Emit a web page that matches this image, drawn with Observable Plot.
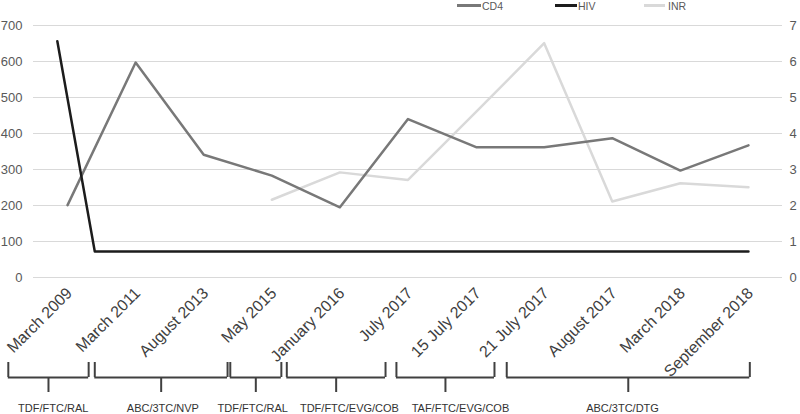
<!DOCTYPE html>
<html>
<head>
<meta charset="utf-8">
<script src="https://cdn.jsdelivr.net/npm/d3@7"></script>
<script src="https://cdn.jsdelivr.net/npm/@observablehq/plot@0.6"></script>
<style>
  html, body { margin: 0; padding: 0; background: #fff; }
  #wrap { position: relative; width: 800px; height: 414px; overflow: hidden; font-family: "Liberation Sans", Arial, sans-serif; }
  .lg { position: absolute; top: 0; font-size: 10.5px; color: #595959; line-height: 12px; }
  .sw { position: absolute; height: 2.5px; }
</style>
</head>
<body>
<div id="wrap"></div>
<script>
// ---- data ----
const dates = ["March 2009", "March 2011", "August 2013", "May 2015", "January 2016", "July 2017",
               "15 July 2017", "21 July 2017", "August 2017", "March 2018", "September 2018"];
const cd4 = [201, 597, 341, 283, 195, 440, 362, 362, 387, 297, 367];
const inr = [null, null, null, 2.16, 2.92, 2.71, 4.6, 6.51, 2.11, 2.62, 2.51];
const hivPos = [-0.15, 0.4, 10];          // positions along the date axis (category index)
const hivVal = [656, 72, 72];
const leftTicks = [0, 100, 200, 300, 400, 500, 600, 700];
const rightTicks = [0, 1, 2, 3, 4, 5, 6, 7];
const regimenNames = ["TDF/FTC/RAL", "ABC/3TC/NVP", "TDF/FTC/RAL", "TDF/FTC/EVG/COB", "TAF/FTC/EVG/COB", "ABC/3TC/DTG"];
const regimenStart = [-0.87, 0.4, 2.39, 3.22, 4.83, 6.45];
const regimenEnd   = [0.31, 2.35, 3.14, 4.67, 6.27, 10.02];
const regimenLabelAt = [-0.21, 1.4, 2.72, 4.14, 5.77, 8.15];

// ---- tables ----
const idx = d3.range(dates.length);
const cd4Data = idx.map(i => ({x: i, y: cd4[i]}));
const inrScale = 100; // INR plotted against right axis (0–7 ↔ 0–700)
const inrData = idx.filter(i => inr[i] != null).map(i => ({x: i, y: inr[i] * inrScale}));
const hivData = hivPos.map((p, i) => ({x: p, y: hivVal[i]}));
const regs = regimenNames.map((n, i) => ({name: n, s: regimenStart[i], e: regimenEnd[i], m: (regimenStart[i] + regimenEnd[i]) / 2, l: regimenLabelAt[i]}));

// layout constants (pixels below the zero line converted to y units)
const pxPerUnit = 252 / 700;
const below = px => -px / pxPerUnit;

const chart = Plot.plot({
  width: 800,
  height: 414,
  marginLeft: 33,
  marginRight: 18,
  marginTop: 25,
  marginBottom: 137,
  style: {fontFamily: "'Liberation Sans', Arial, sans-serif", background: "#fff", overflow: "visible"},
  x: {type: "linear", domain: [-0.5, 10.5], axis: null},
  y: {domain: [0, 700], axis: null},
  marks: [
    Plot.gridY(leftTicks, {stroke: "#d9d9d9", strokeOpacity: 1, strokeWidth: 1}),
    Plot.axisY(leftTicks, {anchor: "left", tickSize: 0, tickPadding: 11, fontSize: 13, fill: "#595959", label: null}),
    Plot.axisY(rightTicks.map(t => t * inrScale), {anchor: "right", tickSize: 0, tickPadding: 7, fontSize: 13, fill: "#595959", label: null, tickFormat: d => d / inrScale}),
    Plot.line(inrData, {x: "x", y: "y", stroke: "#d9d9d9", strokeWidth: 2.5}),
    Plot.line(cd4Data, {x: "x", y: "y", stroke: "#787878", strokeWidth: 2.5}),
    Plot.line(hivData, {x: "x", y: "y", stroke: "#1c1c1c", strokeWidth: 2.5}),
    Plot.text(idx, {x: d => d, y: 0, text: d => dates[d], rotate: -45, textAnchor: "end", dx: 2, dy: 13, fontSize: 16, fill: "#404040"}),
    Plot.ruleY(regs, {x1: "s", x2: "e", y: 0, dy: 100, stroke: "#404040", strokeWidth: 2}),
    Plot.ruleX(regs, {x: "s", y1: below(85), y2: below(100), stroke: "#404040", strokeWidth: 2}),
    Plot.ruleX(regs, {x: "e", y1: below(85), y2: below(100), stroke: "#404040", strokeWidth: 2}),
    Plot.ruleX(regs, {x: "m", y1: below(100), y2: below(115), stroke: "#404040", strokeWidth: 2}),
    Plot.text(regs, {x: "l", y: 0, dy: 131, text: "name", fontSize: 11, fill: "#333"})
  ]
});

const wrap = document.getElementById("wrap");
wrap.appendChild(chart);

// legend
const legend = [
  {name: "CD4", color: "#787878", x0: 457, x1: 481, tx: 482},
  {name: "HIV", color: "#1c1c1c", x0: 555, x1: 577, tx: 578},
  {name: "INR", color: "#d9d9d9", x0: 644, x1: 665, tx: 668}
];
legend.forEach(l => {
  const s = document.createElement("div");
  s.className = "sw";
  s.style.left = l.x0 + "px"; s.style.width = (l.x1 - l.x0) + "px"; s.style.top = "4px"; s.style.background = l.color;
  wrap.appendChild(s);
  const t = document.createElement("div");
  t.className = "lg";
  t.style.left = l.tx + "px";
  t.textContent = l.name;
  wrap.appendChild(t);
});
</script>
</body>
</html>
